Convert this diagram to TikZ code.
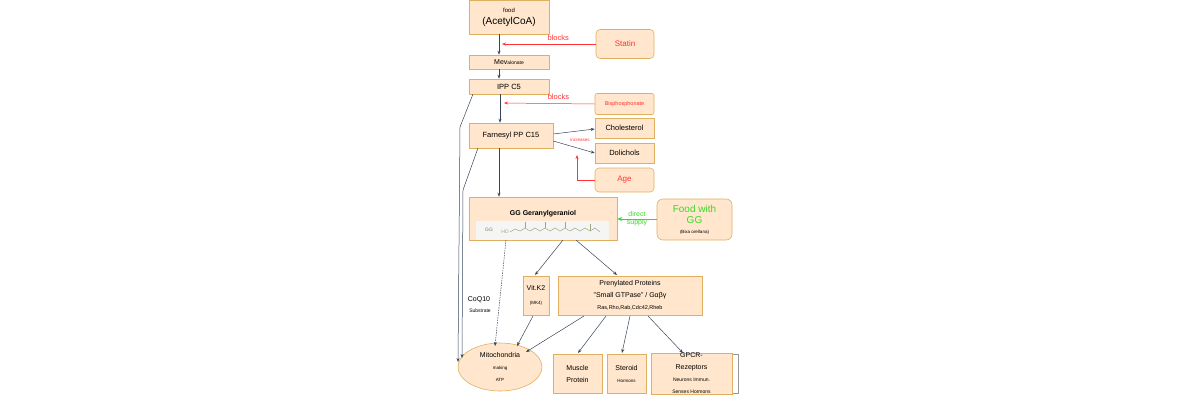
\documentclass[tikz,border=0pt]{standalone}
\usepackage{fontspec}
\setmainfont{Liberation Sans}
\usetikzlibrary{arrows.meta,shapes.geometric}
\definecolor{bf}{HTML}{FFE6CC}
\definecolor{bd}{HTML}{E0B060}
\definecolor{ar}{HTML}{36455A}
\definecolor{rd}{HTML}{FF3333}
\definecolor{gn}{HTML}{33DD22}
\definecolor{mol}{HTML}{9AAA80}
\begin{document}
\begin{tikzpicture}[x=1pt,y=-1pt,
 box/.style={draw=bd,fill=bf,line width=0.6pt,align=center,inner sep=0pt},
 rbox/.style={box,rounded corners=4pt},
 arr/.style={draw=ar,line width=0.5pt,-{Stealth[length=4pt,width=3pt]}},
 rarr/.style={draw=rd,line width=0.5pt,-{Stealth[length=4pt,width=3pt]}},
 lab/.style={font=\fontsize{7}{8}\selectfont}]
\useasboundingbox (0,0) rectangle (1200,400);
\node[box,minimum width=80,minimum height=34] (food) at (509,17) {\fontsize{6}{8}\selectfont food\\(AcetylCoA)};
\node[rbox,minimum width=58,minimum height=29] (statin) at (625,44) {\color{rd}\fontsize{8}{9}\selectfont Statin};
\node[box,minimum width=80,minimum height=14] (mev) at (509,62) {\fontsize{7}{8}\selectfont Mev\fontsize{5}{6}\selectfont alonate};
\node[box,minimum width=80,minimum height=15] (ipp) at (509,86.5) {\fontsize{7.5}{8}\selectfont IPP C5};
\node[rbox,rounded corners=2pt,minimum width=59,minimum height=21] (bis) at (624.5,104) {\color{rd}\fontsize{5.5}{6}\selectfont Bisphosphonate};
\node[box,minimum width=84,minimum height=25] (far) at (511,135.5) {\fontsize{7.5}{8}\selectfont Farnesyl PP C15};
\node[box,minimum width=59,minimum height=20] (chol) at (624.5,128) {\fontsize{7.5}{8}\selectfont Cholesterol};
\node[box,minimum width=59,minimum height=20] (doli) at (624.5,153) {\fontsize{7.5}{8}\selectfont Dolichols};
\node[rbox,minimum width=59,minimum height=24] (age) at (624.5,180) {\color{rd}\fontsize{8}{9}\selectfont Age};
\node[box,minimum width=148,minimum height=43] (gg) at (543,218.5) {};
\node[font=\bfseries\fontsize{7}{8}\selectfont] at (543,214) {GG Geranylgeraniol};
\fill[black!4] (476,221) rectangle (609,240);
\node[text=mol,font=\bfseries\fontsize{5}{6}\selectfont] (ggt) at (489,230) {GG};
\node[text=mol,font=\fontsize{5}{6}\selectfont] (ho) at (505,232) {HO};
\draw[mol,line width=0.5pt] (510,232) -- (515,229) -- (520,231) -- (525,228) -- (530,231) -- (535,228) -- (540,231) -- (545,228) -- (550,231) -- (555,228) -- (560,231) -- (565,228) -- (570,231) -- (575,228) -- (580,231) -- (585,228) -- (590,231) -- (595,228) -- (600,232);
\draw[mol,line width=0.5pt] (525,228) -- (525,222) (545,228) -- (545,222) (565,228)--(565,222) (590,231)--(590,224);
\node[rbox,rounded corners=6pt,minimum width=75,minimum height=41] (fgg) at (694.5,219.5) {\color{gn}\fontsize{10}{12}\selectfont Food with\\[-1pt]\color{gn}\fontsize{10}{12}\selectfont GG\\[-2pt]\fontsize{4.5}{5}\selectfont (Bixa orellana)};
\node[box,minimum width=26,minimum height=39] (k2) at (536,295.5) {\fontsize{7}{8}\selectfont Vit.K2\\[2pt]\fontsize{4.5}{5}\selectfont (MK4)};
\node[box,minimum width=144,minimum height=39] (pp) at (630,295.5) {\fontsize{7}{8.5}\selectfont Prenylated Proteins\\\fontsize{7}{8.5}\selectfont "Small GTPase" / Gαβγ\\\fontsize{5.5}{7}\selectfont Ras,Rho,Rab,Cdc42,Rheb};
\node[ellipse,draw=bd,fill=bf,line width=0.6pt,minimum width=84,minimum height=48,inner sep=0pt,align=center] (mito) at (500,367) {\fontsize{7}{8}\selectfont Mitochondria\\\fontsize{4.5}{5}\selectfont making\\\fontsize{4.5}{5}\selectfont ATP};
\node[box,minimum width=49,minimum height=39] (mus) at (577.5,373.5) {\fontsize{7}{8.5}\selectfont Muscle\\\fontsize{7}{8.5}\selectfont Protein};
\node[box,minimum width=39,minimum height=39] (ster) at (626.5,373.5) {\fontsize{7}{8}\selectfont Steroid\\\fontsize{4.5}{6}\selectfont Hormons};
\draw[black!40,line width=0.5pt] (732,354) -- (738,354) -- (738,393) -- (732,393);
\node[box,minimum width=81,minimum height=39] (gpcr) at (691.5,373.5) {\fontsize{7}{8}\selectfont GPCR-\\\fontsize{7}{8}\selectfont Rezeptors\\\fontsize{5}{6}\selectfont Neurons Immun.\\\fontsize{5}{6}\selectfont Senses Hormons};
% main chain
\draw[arr] (food.south -| 499,0) -- (mev.north -| 499,0);
\draw[arr] (mev.south -| 499,0) -- (ipp.north -| 499,0);
\draw[arr] (ipp.south -| 500,0) -- (far.north -| 500,0);
\draw[arr] (far.south -| 499,0) -- (gg.north -| 499,0);
\draw[arr] (far.east |- 0,134) -- (chol.west |- 0,129);
\draw[arr] (far.east |- 0,141) -- (doli.west |- 0,153);
% inhibitors
\draw[rarr] (statin.west) -- (502,44) node[pos=0.4,above,lab,text=rd,font=\fontsize{7.5}{8}\selectfont] {blocks};
\draw[rarr] (bis.west) -- (504,103) node[pos=0.4,above,lab,text=rd,font=\fontsize{7.5}{8}\selectfont] {blocks};
\draw[rarr] (age.west) -- (577,180) -- (577,155);
\node[text=rd,font=\fontsize{4.5}{5}\selectfont] at (580,140) {increases};
\draw[draw=gn,line width=0.6pt,-{Stealth[length=5pt,width=4pt]}] (fgg.west |- 0,219) -- (gg.east |- 0,219) node[pos=0.5,text=gn,align=center,font=\fontsize{7}{8}\selectfont] {direct\\supply};
% side lines
\draw[arr] (473,94) -- (460,127) -- (458,362);
\draw[arr] (478,148) -- (463,190) -- (462,358);
\node[font=\fontsize{7}{8}\selectfont] at (479,300) {CoQ10};
\node[font=\fontsize{5}{6}\selectfont] at (480,311) {Substrate};
\draw[arr,dashed,dash pattern=on 1.5pt off 1pt] (506,240) -- (495,346);
% lower
\draw[arr] (563,240) -- (535,275);
\draw[arr] (576,240) -- (617,275);
\draw[arr] (533,316) -- (517,346);
\draw[arr] (584,316) -- (526,352);
\draw[arr] (606,316) -- (578,353);
\draw[arr] (630,316) -- (622,353);
\draw[arr] (648,316) -- (683,353);
\end{tikzpicture}
\end{document}
